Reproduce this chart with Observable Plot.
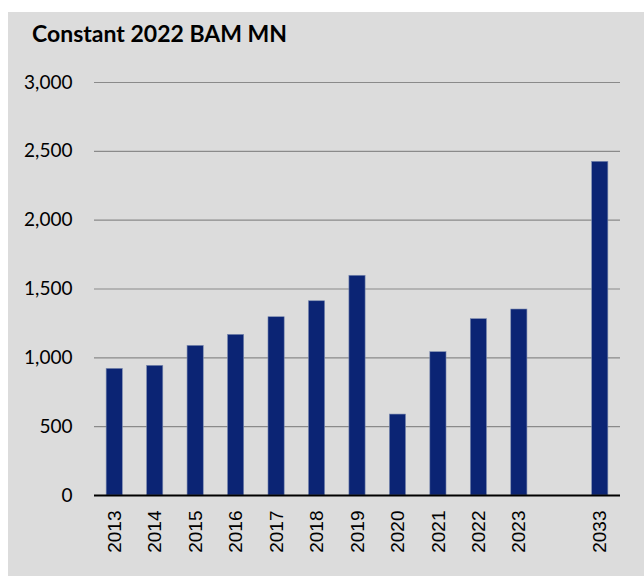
<!DOCTYPE html>
<html>
<head>
<meta charset="utf-8">
<script src="https://cdn.jsdelivr.net/npm/d3@7"></script>
<script src="https://cdn.jsdelivr.net/npm/@observablehq/plot@0.6"></script>
<style>
  html, body { margin: 0; padding: 0; background: #ffffff; }
  #panel { position: absolute; left: 8px; top: 12px; width: 636px; height: 564px; background: #dcdcdc; }
  #title { position: absolute; left: 24px; top: 7px; font-family: Lato, sans-serif; font-weight: 700; font-size: 23px; color: #000; white-space: nowrap; }
  #chart { position: absolute; left: 0; top: 0; }
</style>
</head>
<body>
<div id="panel">
  <div id="title">Constant 2022 BAM MN</div>
  <div id="chart"></div>
</div>
<script>
const years = ["2013", "2014", "2015", "2016", "2017", "2018", "2019", "2020", "2021", "2022", "2023", "2033"];
const values = [920, 942, 1087, 1167, 1295, 1411, 1596, 588, 1041, 1281, 1351, 2424];
const xDomain = ["2013", "2014", "2015", "2016", "2017", "2018", "2019", "2020", "2021", "2022", "2023", "gap", "2033"];
const yTicks = [0, 500, 1000, 1500, 2000, 2500, 3000];

const data = years.map((y, i) => ({year: y, value: values[i]}));

const plot = Plot.plot({
  width: 636,
  height: 564,
  marginLeft: 86,
  marginRight: 24,
  marginTop: 70,
  marginBottom: 81,
  style: { background: "transparent", fontFamily: "'Liberation Sans', Arial, sans-serif", fontSize: "19px", color: "#000" },
  x: { domain: xDomain, paddingInner: 0.6, paddingOuter: 0.3, round: false, label: null },
  y: { domain: [0, 3000], label: null },
  marks: [
    Plot.gridY(yTicks.filter(d => d > 0), { stroke: "#8a8a8a", strokeOpacity: 1, strokeWidth: 1.2 }),
    Plot.barY(data, { x: "year", y: "value", fill: "#0b2474", stroke: "#7c8bb0", strokeWidth: 0.6 }),
    Plot.ruleY([0], { stroke: "#000", strokeWidth: 2 }),
    Plot.axisY({ ticks: yTicks, tickSize: 0, tickPadding: 22, tickFormat: d3.format(","), label: null, fontFamily: "Lato, sans-serif", fontSize: 19 }),
    Plot.axisX({ tickSize: 0, tickPadding: 15, tickRotate: -90, tickFormat: d => d === "gap" ? "" : d, label: null })
  ]
});
document.getElementById("chart").appendChild(plot);
</script>
</body>
</html>
